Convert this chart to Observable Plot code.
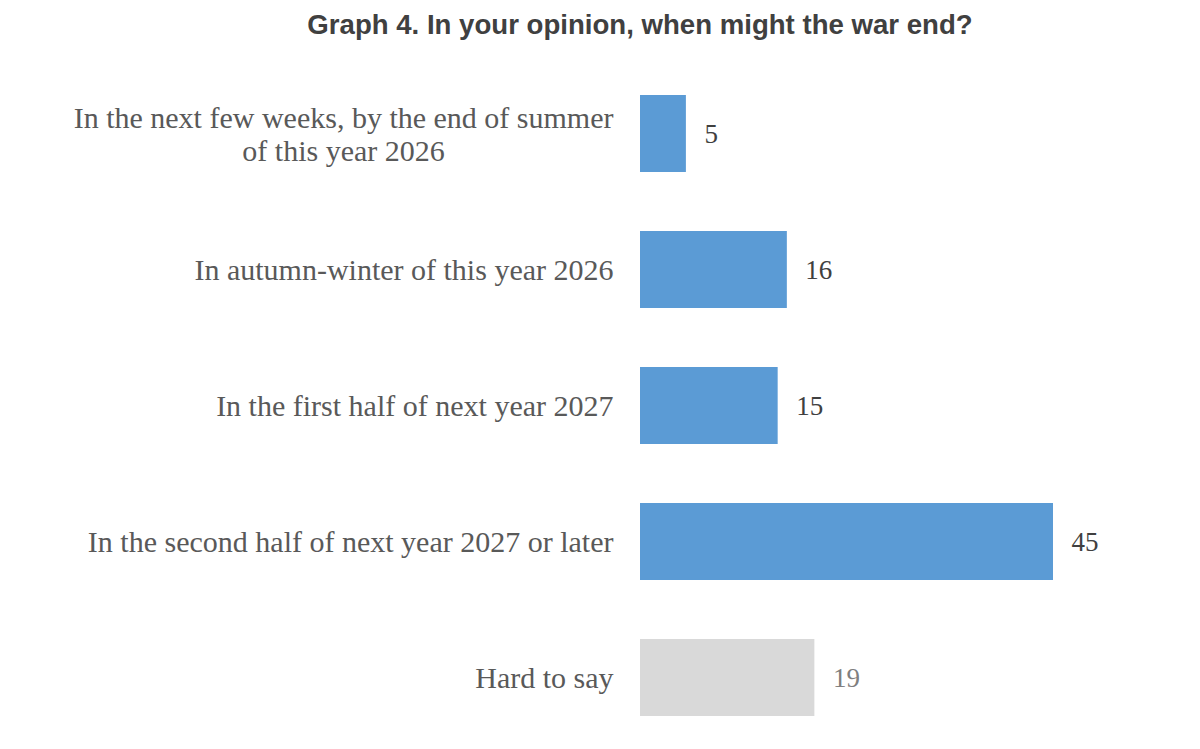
<!DOCTYPE html>
<html><head><meta charset="utf-8">
<script src="https://cdn.jsdelivr.net/npm/d3@7"></script>
<script src="https://cdn.jsdelivr.net/npm/@observablehq/plot@0.6"></script>
<style>
html,body{margin:0;padding:0;background:#fff;}
#title{height:50px;line-height:50px;text-align:center;font-family:"Liberation Sans",Arial,sans-serif;font-weight:bold;font-size:27.6px;color:#404040;padding-left:80px;box-sizing:border-box;width:1200px;}
</style>
</head><body>
<div id="title">Graph 4. In your opinion, when might the war end?</div>
<div id="chart"></div>
<script>
const categories = [
  "In the next few weeks, by the end of summer\nof this year 2026",
  "In autumn-winter of this year 2026",
  "In the first half of next year 2027",
  "In the second half of next year 2027 or later",
  "Hard to say"
];
const values = [5, 16, 15, 45, 19];
const colors = ["#5B9BD5", "#5B9BD5", "#5B9BD5", "#5B9BD5", "#D9D9D9"];
const valueColors = ["#404040", "#404040", "#404040", "#404040", "#7F7F7F"];

const labelSize = 30;
const ctx = document.createElement("canvas").getContext("2d");
ctx.font = labelSize + "px 'Liberation Serif'";
const labelWidth = c => Math.max(...c.split("\n").map(l => ctx.measureText(l).width));

const data = categories.map((c, i) => ({cat: c, value: values[i], color: colors[i], vcolor: valueColors[i], w: labelWidth(c)}));

const chart = Plot.plot({
  width: 1200,
  height: 699,
  marginLeft: 640,
  marginRight: 147,
  marginTop: 15,
  marginBottom: 4,
  style: {fontFamily: "'Liberation Serif', 'Times New Roman', serif", background: "#fff"},
  x: {domain: [0, 45], axis: null},
  y: {domain: categories, paddingInner: 0.434, paddingOuter: 0.2, axis: null},
  marks: [
    Plot.barX(data, {x: "value", y: "cat", fill: "color"}),
    ...data.map(d => Plot.text([d], {x: 0, y: "cat", text: "cat", textAnchor: "middle", dx: -27 - d.w / 2, fontSize: labelSize, fill: "#595959", lineHeight: 1.08})),
    Plot.text(data, {x: "value", y: "cat", text: d => String(d.value), textAnchor: "start", dx: 18, fontSize: 27, fill: "vcolor"})
  ]
});
document.getElementById("chart").appendChild(chart);
</script>
</body></html>
